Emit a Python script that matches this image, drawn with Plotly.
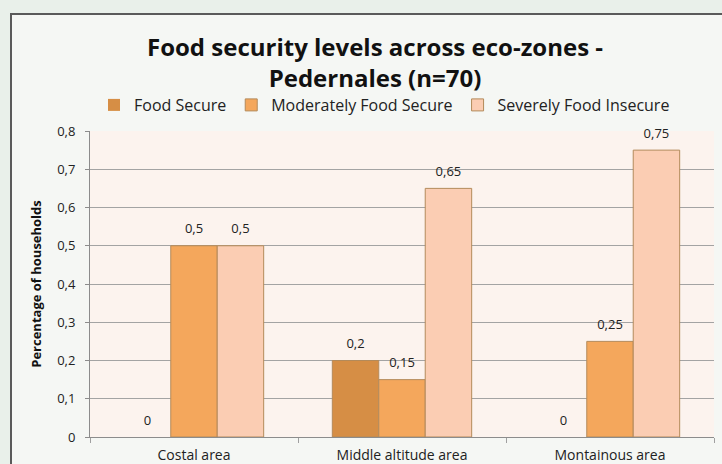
import plotly.graph_objects as go

# Eco-zones and share of households per food security level
zones = ["Costal area", "Middle altitude area", "Montainous area"]
food_secure = [0, 0.2, 0]
moderately_secure = [0.5, 0.15, 0.25]
severely_insecure = [0.5, 0.65, 0.75]
y_ticks = [0, 0.1, 0.2, 0.3, 0.4, 0.5, 0.6, 0.7, 0.8]

series = [
    ("Food Secure", food_secure, "#d68e45"),
    ("Moderately Food Secure", moderately_secure, "#f4a75c"),
    ("Severely Food Insecure", severely_insecure, "#fbcdb3"),
]

FONT = "Open Sans"
GAP = 0.33


def fmt(v):
    return ("%g" % v).replace(".", ",")


fig = go.Figure()
for name, vals, color in series:
    fig.add_trace(go.Bar(
        name=name,
        x=zones,
        y=vals,
        marker=dict(color=color,
                    line=dict(color="#b38a5a",
                              width=[1 if v else 0 for v in vals])),
        hoverinfo="skip",
    ))

# value labels, grouped the same way as the bars
for name, vals, color in series:
    fig.add_trace(go.Scatter(
        x=zones,
        y=vals,
        mode="markers+text",
        text=[fmt(v) for v in vals],
        textposition="top center",
        textfont=dict(family=FONT, size=13, color="#222222"),
        marker=dict(size=13, color="rgba(0,0,0,0)"),
        cliponaxis=False,
        showlegend=False,
        hoverinfo="skip",
    ))

W, H = 722, 464
L, R, T, B = 90, 8, 131, 27
pw, ph = W - L - R, H - T - B


def px_x(x):
    return (x - L) / pw


def px_y(y):
    return (H - B - y) / ph


shapes = [
    # outer chart box
    dict(type="rect", xref="paper", yref="paper", layer="below",
         x0=px_x(11), x1=px_x(740), y0=px_y(480), y1=px_y(14),
         fillcolor="#f5f7f4", line=dict(color="#5a5a5a", width=2)),
    # plot area background
    dict(type="rect", xref="paper", yref="paper", layer="below",
         x0=0, x1=1, y0=0, y1=1,
         fillcolor="#fcf3ee", line=dict(width=0)),
]

fig.update_layout(
    width=W, height=H,
    margin=dict(l=L, r=R, t=T, b=B, autoexpand=False),
    paper_bgcolor="#e9f0ea",
    plot_bgcolor="rgba(0,0,0,0)",
    separators=", ",
    barmode="group",
    bargap=GAP,
    bargroupgap=0,
    scattermode="group",
    scattergap=GAP,
    shapes=shapes,
    font=dict(family=FONT, color="#222222"),
    title=dict(
        text="<b>Food security levels across eco-zones -<br>Pedernales (n=70)</b>",
        x=375 / W, xanchor="center", xref="container",
        y=1 - 56 / H, yanchor="top", yref="container",
        font=dict(family=FONT, size=24, color="#111111"),
    ),
    legend=dict(
        orientation="h", x=94 / W, xref="container", xanchor="left",
        y=1 - 88 / H, yref="container", yanchor="top",
        font=dict(family=FONT, size=16, color="#222222"),
        bgcolor="rgba(0,0,0,0)", traceorder="normal",
    ),
    xaxis=dict(
        showline=True, linecolor="#8c8c8c", linewidth=1,
        ticks="outside", tickson="boundaries", ticklen=5, tickcolor="#a0a0a0",
        ticklabelstandoff=5,
        tickfont=dict(family=FONT, size=14, color="#222222"),
        showgrid=False,
    ),
    yaxis=dict(
        range=[0, 0.8], tickvals=y_ticks,
        showline=True, linecolor="#8c8c8c", linewidth=1,
        ticks="outside", ticklen=4, tickcolor="#8c8c8c",
        ticklabelstandoff=7,
        tickfont=dict(family=FONT, size=13, color="#222222"),
        showgrid=True, gridcolor="#a3a3a3", gridwidth=1,
        zeroline=False,
        title=dict(text="<b>Percentage of households</b>",
                   font=dict(family=FONT, size=13, color="#111111"),
                   standoff=12),
    ),
)

fig.write_html("out.html")
